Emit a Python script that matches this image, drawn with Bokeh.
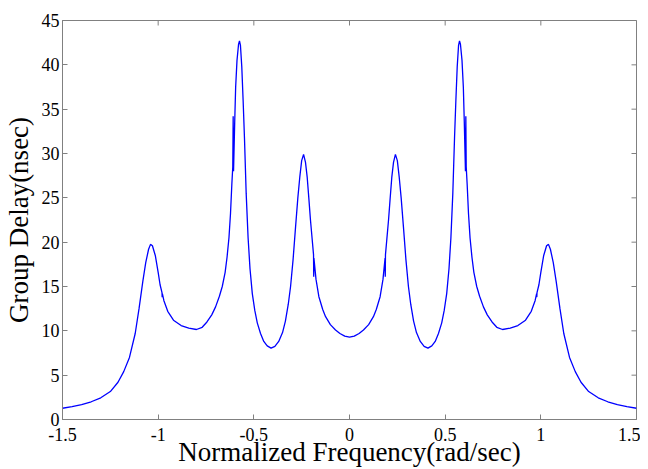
import math
from bokeh.plotting import figure
from bokeh.models import Range1d, FixedTicker
from bokeh.embed import file_html
from bokeh.resources import INLINE

x_ticks = [-1.5, -1.0, -0.5, 0.0, 0.5, 1.0, 1.5]
x_tick_labels = ["-1.5", "-1", "-0.5", "0", "0.5", "1", "1.5"]
y_ticks = [0, 5, 10, 15, 20, 25, 30, 35, 40, 45]
y_tick_labels = ["0", "5", "10", "15", "20", "25", "30", "35", "40", "45"]

freq = [
    -1.500, -1.450, -1.400, -1.350, -1.300, -1.250, -1.210, -1.180, -1.150, -1.120,
    -1.100, -1.080, -1.065, -1.050, -1.040, -1.030, -1.015, -1.000, -0.990, -0.980,
    -0.979, -0.978, -0.970, -0.950, -0.920, -0.880, -0.840, -0.800, -0.770, -0.745,
    -0.720, -0.700, -0.680, -0.665, -0.650, -0.640, -0.630, -0.622, -0.615, -0.610,
    -0.608, -0.606, -0.600, -0.595, -0.588, -0.580, -0.575, -0.570, -0.563, -0.556,
    -0.549, -0.540, -0.530, -0.520, -0.508, -0.495, -0.482, -0.465, -0.448, -0.430,
    -0.410, -0.390, -0.370, -0.350, -0.335, -0.320, -0.308, -0.295, -0.282, -0.270,
    -0.260, -0.250, -0.240, -0.230, -0.221, -0.212, -0.204, -0.195, -0.188, -0.187,
    -0.186, -0.175, -0.160, -0.140, -0.125, -0.100, -0.073, -0.050, -0.025, 0.000,
    0.025, 0.050, 0.073, 0.100, 0.125, 0.140, 0.160, 0.175, 0.186, 0.187,
    0.188, 0.195, 0.204, 0.212, 0.221, 0.230, 0.240, 0.250, 0.260, 0.270,
    0.282, 0.295, 0.308, 0.320, 0.335, 0.350, 0.370, 0.390, 0.410, 0.430,
    0.448, 0.465, 0.482, 0.495, 0.508, 0.520, 0.530, 0.540, 0.549, 0.556,
    0.563, 0.570, 0.575, 0.580, 0.588, 0.595, 0.600, 0.606, 0.608, 0.610,
    0.615, 0.622, 0.630, 0.640, 0.650, 0.665, 0.680, 0.700, 0.720, 0.745,
    0.770, 0.800, 0.840, 0.880, 0.920, 0.950, 0.970, 0.978, 0.979, 0.980,
    0.990, 1.000, 1.015, 1.030, 1.040, 1.050, 1.065, 1.080, 1.100, 1.120,
    1.150, 1.180, 1.210, 1.250, 1.300, 1.350, 1.400, 1.450, 1.500,
]

group_delay = [
    1.27, 1.45, 1.68, 2.00, 2.45, 3.15, 4.20, 5.40, 7.00, 9.70,
    12.5, 15.6, 17.7, 19.2, 19.75, 19.6, 18.5, 16.6, 15.2, 14.3,
    13.8, 14.2, 13.4, 12.2, 11.2, 10.6, 10.3, 10.15, 10.4, 11.0,
    11.8, 12.7, 13.9, 15.0, 16.6, 18.3, 20.5, 23.2, 26.5, 28.5,
    34.2, 28.0, 33.5, 37.5, 40.5, 42.3, 42.7, 42.2, 39.8, 36.0,
    31.8, 25.5, 20.5, 17.0, 14.2, 12.3, 10.9, 9.7, 8.8, 8.3,
    8.05, 8.25, 8.8, 9.8, 11.1, 13.0, 15.0, 18.0, 21.7, 25.0,
    27.3, 29.2, 29.9, 29.0, 27.3, 24.8, 22.5, 20.3, 18.6, 16.1,
    18.2, 15.8, 13.85, 12.4, 11.6, 10.7, 10.1, 9.7, 9.4, 9.3,
    9.4, 9.7, 10.1, 10.7, 11.6, 12.4, 13.85, 15.8, 18.2, 16.1,
    18.6, 20.3, 22.5, 24.8, 27.3, 29.0, 29.9, 29.2, 27.3, 25.0,
    21.7, 18.0, 15.0, 13.0, 11.1, 9.8, 8.8, 8.25, 8.05, 8.3,
    8.8, 9.7, 10.9, 12.3, 14.2, 17.0, 20.5, 25.5, 31.8, 36.0,
    39.8, 42.2, 42.7, 42.3, 40.5, 37.5, 33.5, 28.0, 34.2, 28.5,
    26.5, 23.2, 20.5, 18.3, 16.6, 15.0, 13.9, 12.7, 11.8, 11.0,
    10.4, 10.15, 10.3, 10.6, 11.2, 12.2, 13.4, 14.2, 13.8, 14.3,
    15.2, 16.6, 18.5, 19.6, 19.75, 19.2, 17.7, 15.6, 12.5, 9.70,
    7.00, 5.40, 4.20, 3.15, 2.45, 2.00, 1.68, 1.45, 1.27,
]

FONT = "Liberation Serif"
AXIS_COLOR = "#808080"
X_MIN, X_MAX = x_ticks[0], x_ticks[-1]
Y_MIN, Y_MAX = y_ticks[0], y_ticks[-1]

p = figure(
    width=640, height=469,
    x_range=Range1d(X_MIN, X_MAX), y_range=Range1d(Y_MIN, Y_MAX),
    output_backend="svg", toolbar_location=None,
    min_border_left=62, min_border_right=4, min_border_top=20, min_border_bottom=49,
)
p.xgrid.visible = False
p.ygrid.visible = False
p.outline_line_color = AXIS_COLOR
p.background_fill_color = "white"
p.border_fill_color = "white"

# inward ticks on the top and right edges of the box (clipped to the frame)
p.scatter(x_ticks, [Y_MAX] * len(x_ticks), marker="dash", angle=math.pi / 2,
          size=10, line_color=AXIS_COLOR, line_width=1)
p.scatter([X_MAX] * len(y_ticks), y_ticks, marker="dash",
          size=10, line_color=AXIS_COLOR, line_width=1)

p.line(freq, group_delay, line_color="#0000ff", line_width=1.3)

p.xaxis.axis_label = "Normalized Frequency(rad/sec)"
p.yaxis.axis_label = "Group Delay(nsec)"

p.xaxis.ticker = FixedTicker(ticks=x_ticks)
p.xaxis.major_label_overrides = dict(zip(x_ticks, x_tick_labels))
p.yaxis.ticker = FixedTicker(ticks=y_ticks)
p.yaxis.major_label_overrides = dict(zip(y_ticks, y_tick_labels))

for ax in (p.xaxis[0], p.yaxis[0]):
    ax.axis_line_color = AXIS_COLOR
    ax.major_tick_line_color = AXIS_COLOR
    ax.major_tick_in = 5
    ax.major_tick_out = 0
    ax.minor_tick_line_color = None
    ax.major_label_text_font = FONT
    ax.major_label_text_font_size = "18px"
    ax.major_label_text_color = "black"
    ax.axis_label_text_font = FONT
    ax.axis_label_text_font_size = "27px"
    ax.axis_label_text_font_style = "normal"
    ax.axis_label_text_color = "black"

p.xaxis.major_label_standoff = 8
p.xaxis.axis_label_standoff = -7
p.yaxis.major_label_standoff = 3
p.yaxis.axis_label_standoff = 5

open("out.html", "w").write(file_html(p, INLINE))
